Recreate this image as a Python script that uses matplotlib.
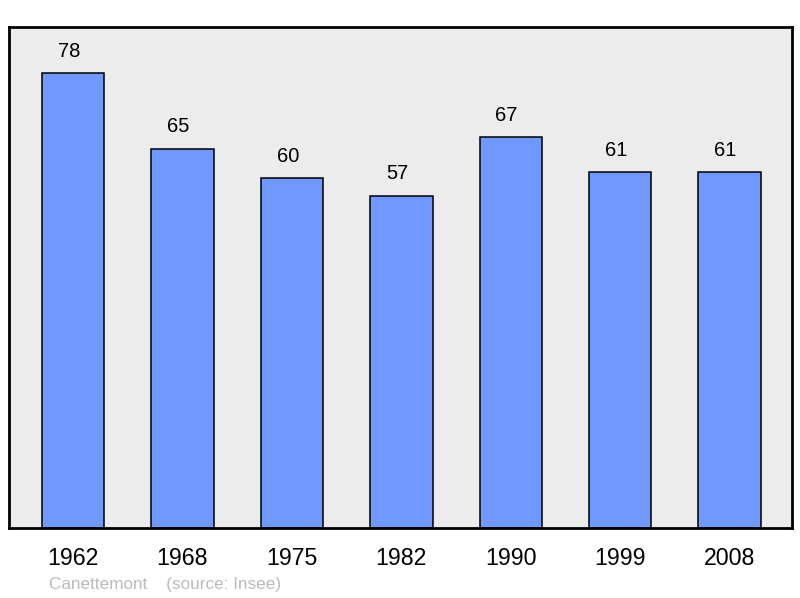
import matplotlib
matplotlib.use('Agg')
import matplotlib.pyplot as plt

# population by census year
years = ['1962', '1968', '1975', '1982', '1990', '1999', '2008']
population = [78, 65, 60, 57, 67, 61, 61]
place = 'Canettemont'
source = '(source: Insee)'

plt.rcParams['font.family'] = ['Liberation Sans', 'DejaVu Sans']

fig = plt.figure(figsize=(8, 5.98), dpi=100)
ax = fig.add_axes([0.0113, 0.117, 0.9787, 0.8378])
ax.set_facecolor('#ececec')

x = range(len(years))
ax.bar(x, population, width=0.57, color='#7099ff', edgecolor='black', linewidth=1.1, zorder=2)

for xi, v in zip(x, population):
    ax.annotate(str(v), (xi, v), xytext=(-3, 9), textcoords='offset points',
                ha='center', va='bottom', fontsize=14.5)

ax.set_xlim(-0.585, 6.57)
ax.set_ylim(0, 85.9)
ax.set_xticks(list(x))
ax.set_xticklabels(years, fontsize=16.7)
ax.tick_params(axis='x', length=0, pad=14)
ax.set_yticks([])
for s in ax.spines.values():
    s.set_linewidth(2)
    s.set_color('black')

fig.text(49 / 800, 1 - 584 / 598, place + '    ' + source, fontsize=12.3,
         color='#bbbbbb', va='center', ha='left')

fig.savefig('out.png', dpi=100)
